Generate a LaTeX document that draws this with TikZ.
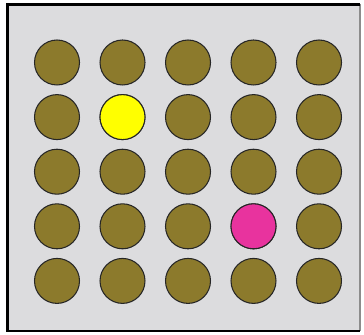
\documentclass[tikz,border=0pt]{standalone}
\usepackage{xcolor}
\usepackage{tikz}
\definecolor{panel}{HTML}{DCDCDE}
\definecolor{olive}{HTML}{8C7A2C}
\definecolor{marked}{HTML}{FFFF00}
\definecolor{picked}{HTML}{E8339E}

\begin{document}
\begin{tikzpicture}[x=0.02cm, y=-0.02cm,
  dot/.style={circle, draw=black!85, line width=0.6pt, fill=olive,
    minimum size=0.9cm, inner sep=0pt}]

  \useasboundingbox (0,0) rectangle (364,334);

  % ============== Panel ==============
  \fill[panel] (7.5,4.5) rectangle (360,331);
  \draw[black!45, line width=0.6pt] (360,4.5) -- (360,331);
  \draw[black, line width=1.7pt] (360,4.5) -- (7.5,4.5) -- (7.5,331) -- (360,331);

  % ============== Grid of dots ==============
  \foreach \r in {1,...,5} {
    \foreach \c in {1,...,5} {
      \node[dot] (d-\r-\c) at ({57+65.5*(\c-1)},{62.5+54.6*(\r-1)}) {};
    }
  }

  % Highlighted dots
  \node[dot, fill=marked] (yellow) at (d-2-2) {};
  \node[dot, fill=picked] (pink) at (d-4-4) {};

\end{tikzpicture}
\end{document}
